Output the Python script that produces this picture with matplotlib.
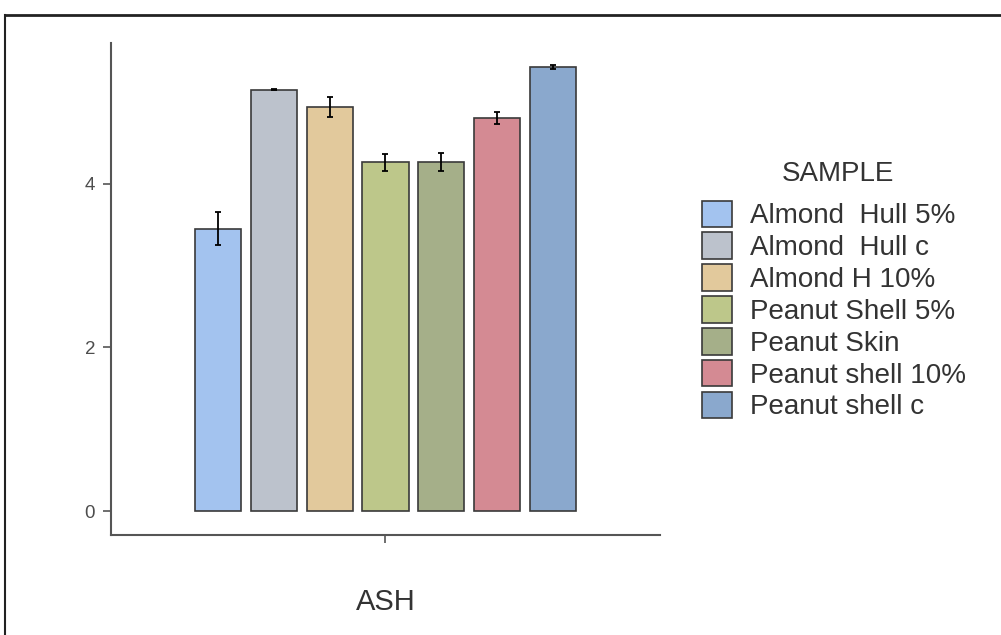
import numpy as np
import matplotlib.pyplot as plt
from matplotlib.patches import Patch

plt.rcParams['font.family'] = ['Liberation Sans', 'DejaVu Sans']

samples = ['Almond  Hull 5%', 'Almond  Hull c', 'Almond H 10%', 'Peanut Shell 5%',
           'Peanut Skin', 'Peanut shell 10%', 'Peanut shell c']
ash_mean = [3.45, 5.15, 4.94, 4.26, 4.26, 4.80, 5.43]
ash_err = [0.20, 0.01, 0.12, 0.10, 0.11, 0.07, 0.025]
colors = ['#a3c3ef', '#bcc2cc', '#e2c99c', '#bdc78a', '#a5af89', '#d48a93', '#8aa8cd']

fig = plt.figure(figsize=(10.01, 6.35), dpi=100)
ax = fig.add_axes([0.1109, 0.1575, 0.5484, 0.775])

# dodge the seven bars around the single category position
step = 0.122
width = 0.101
xpos = 1 + (np.arange(len(samples)) - 3) * step
ax.bar(xpos, ash_mean, width=width, color=colors, edgecolor='#3a3a3a', linewidth=1.2)
ax.errorbar(xpos, ash_mean, yerr=ash_err, fmt='none', ecolor='black',
            elinewidth=1.3, capsize=2.5, capthick=1.3)

ax.set_xlim(0.4, 1.6)
ax.set_ylim(-0.29, 5.72)
ax.set_xticks([1])
ax.set_xticklabels([''])
ax.set_yticks([0, 2, 4])
ax.tick_params(axis='both', colors='#555555', labelcolor='#4d4d4d', labelsize=13.5,
               length=5.5, width=1.2, pad=6)
for side in ['top', 'right']:
    ax.spines[side].set_visible(False)
for side in ['left', 'bottom']:
    ax.spines[side].set_color('#555555')
    ax.spines[side].set_linewidth(1.5)
ax.set_xlabel('ASH', fontsize=21, color='#333333', labelpad=27)

handles = [Patch(facecolor=c, edgecolor='#3a3a3a', linewidth=1.2) for c in colors]
leg = fig.legend(handles, samples, loc='upper left',
                 bbox_to_anchor=(0.687, 0.706), frameon=False, fontsize=20,
                 handlelength=1.08, handleheight=1.1,
                 handletextpad=0.65, labelspacing=0.11, borderpad=0)
for t in leg.get_texts():
    t.set_color('#333333')
fig.text(0.837, 0.726, 'SAMPLE', fontsize=20, color='#333333', ha='center', va='center')

# outer frame, only top and left edges are inside the image
fig.add_artist(plt.Line2D([0.005, 1.0], [0.977, 0.977], transform=fig.transFigure,
                          color='#222222', linewidth=2))
fig.add_artist(plt.Line2D([0.005, 0.005], [0.0, 0.977], transform=fig.transFigure,
                          color='#222222', linewidth=1.5))

fig.savefig('out.png', dpi=100)
